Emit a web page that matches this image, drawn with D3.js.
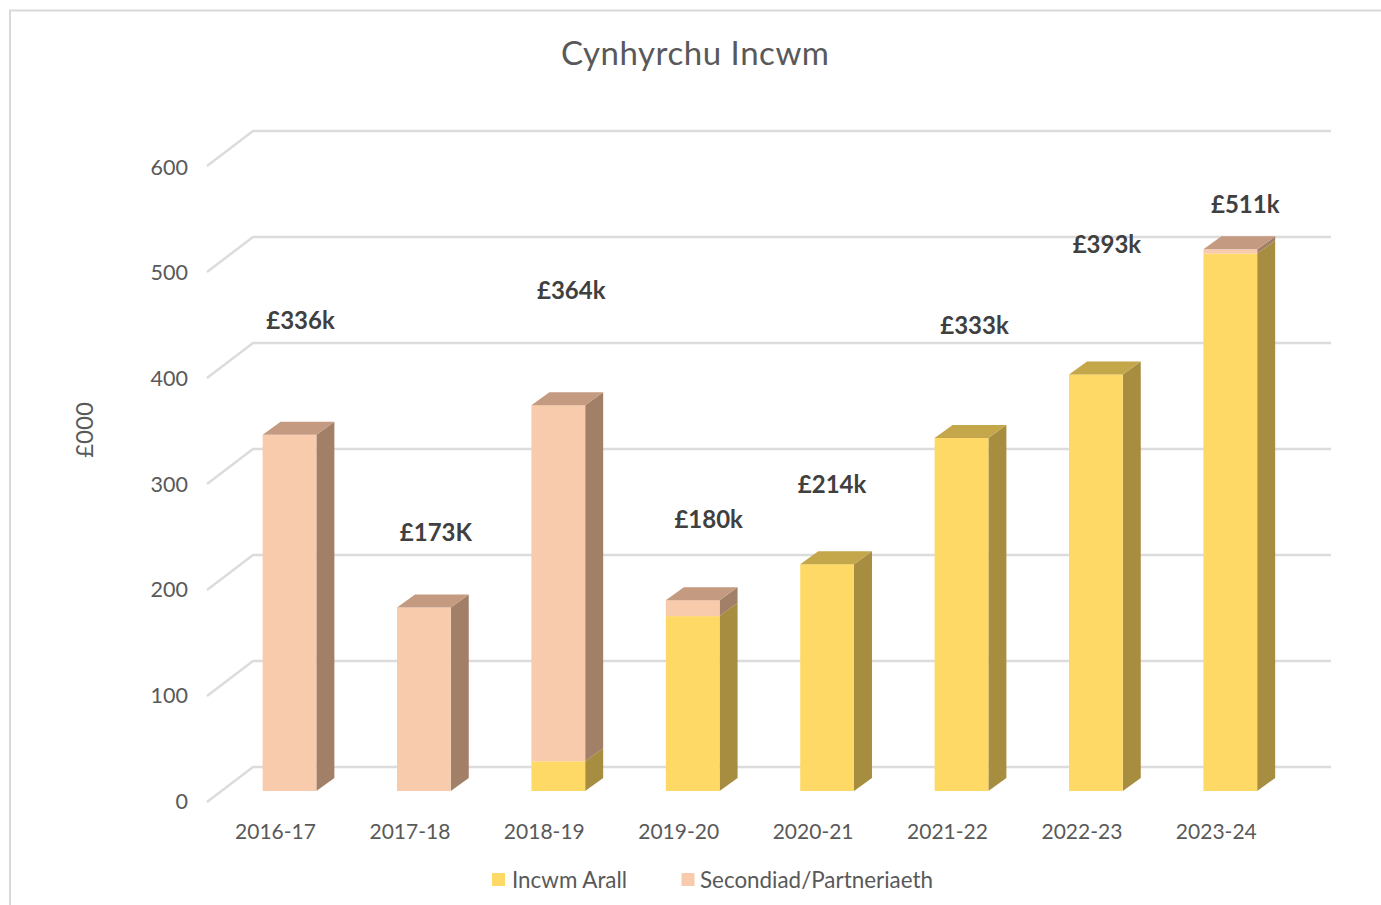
<!DOCTYPE html>
<html lang="cy">
<head>
<meta charset="utf-8">
<title>Cynhyrchu Incwm</title>
<script src="https://cdn.jsdelivr.net/npm/d3@7"></script>
<style>
  html, body { margin: 0; background: #fff; }
  svg { display: block; font-family: Lato, "Open Sans", sans-serif; }
</style>
</head>
<body>
<script>
// data
const years = ["2016-17", "2017-18", "2018-19", "2019-20", "2020-21", "2021-22", "2022-23", "2023-24"];
const incwmArall = [0, 0, 28, 165, 214, 333, 393, 507];
const secondiad = [336, 173, 336, 15, 0, 0, 0, 4];
const totalLabels = ["£336k", "£173K", "£364k", "£180k", "£214k", "£333k", "£393k", "£511k"];
const seriesNames = ["Incwm Arall", "Secondiad/Partneriaeth"];
const yTicks = [0, 100, 200, 300, 400, 500, 600];

// layout
const w = 1381, h = 905;
const depthX = 18, depthY = 13;       // bar depth
const wallX = 46;                     // floor depth from axis to back wall
const labelDx = [11, 12, 13, 16, 5, 13, 11, 15];  // labels were dragged around by hand
const labelY = [321, 533, 291, 520, 485, 326, 245, 205];

const colors = {
  "Incwm Arall": { front: "#ffd966", side: "#a68d3f", top: "#c4a64b" },
  "Secondiad/Partneriaeth": { front: "#f7cbac", side: "#a28068", top: "#c49a80" }
};

const x = d3.scaleBand().domain(years).range([222.3, 1297.5]).paddingInner(0.6).paddingOuter(0.3);
const y = d3.scaleLinear().domain([0, 600]).range([791, 155]);
// the axis labels sit on the front edge of the floor, the gridlines on the back wall
const yFront = y.copy().range([802, 166]);
const yBack = y.copy().range([767, 131]);
const yLabels = y.copy().range([801, 167]);

const svg = d3.select("body").append("svg").attr("width", w).attr("height", h);

// chart border, cropped on the right and bottom
svg.append("path")
  .attr("d", `M10,${h + 5}V10.5H${w + 5}`)
  .attr("fill", "none").attr("stroke", "#d9d9d9").attr("stroke-width", 2);

svg.append("text")
  .attr("x", 695).attr("y", 65)
  .attr("text-anchor", "middle")
  .attr("font-size", 33).attr("fill", "#595959")
  .attr("textLength", 268)
  .text("Cynhyrchu Incwm");

// gridlines
svg.append("g").selectAll("path")
  .data(yTicks)
  .join("path")
  .attr("d", d => `M207,${yFront(d)}L${207 + wallX},${yBack(d)}H1331`)
  .attr("fill", "none").attr("stroke", "#dcdcdc").attr("stroke-width", 2.5);

// axes
const yAxis = svg.append("g")
  .attr("transform", "translate(188,0)")
  .call(d3.axisLeft(yLabels).tickValues(yTicks).tickSize(0).tickPadding(0));
const xAxis = svg.append("g")
  .attr("transform", "translate(-14,822)")
  .call(d3.axisBottom(x).tickSize(0).tickPadding(0));
[yAxis, xAxis].forEach(a => {
  a.select(".domain").remove();
  a.selectAll("text").attr("font-size", 21.5).attr("fill", "#595959").attr("font-family", "Lato");
});
xAxis.selectAll("text").attr("y", 0).attr("dy", "0.8em").attr("font-size", 21);
yAxis.selectAll("text").attr("dy", "0.33em");

svg.append("text")
  .attr("transform", "translate(93,430) rotate(-90)")
  .attr("text-anchor", "middle")
  .attr("font-size", 24).attr("fill", "#595959")
  .text("£000");

// stacked bars
const rows = years.map((yr, i) => ({ year: yr, "Incwm Arall": incwmArall[i], "Secondiad/Partneriaeth": secondiad[i] }));
const stacked = d3.stack().keys(seriesNames)(rows);

const seriesG = svg.append("g").selectAll("g")
  .data(stacked)
  .join("g");

const segs = seriesG.selectAll("g")
  .data(s => s.filter(d => d[1] > d[0]).map(d => ({ key: s.key, y0: d[0], y1: d[1], year: d.data.year })))
  .join("g");

segs.append("path")
  .attr("fill", d => colors[d.key].side)
  .attr("d", d => {
    const r = x(d.year) + x.bandwidth();
    return `M${r},${y(d.y0)}L${r + depthX},${y(d.y0) - depthY}V${y(d.y1) - depthY}L${r},${y(d.y1)}Z`;
  });

segs.append("rect")
  .attr("fill", d => colors[d.key].front)
  .attr("x", d => x(d.year))
  .attr("y", d => y(d.y1))
  .attr("width", x.bandwidth())
  .attr("height", d => y(d.y0) - y(d.y1));

// only the highest segment of each bar shows its lid
segs.filter(d => d.y1 === d3.max(stacked, s => s.find(p => p.data.year === d.year)[1]))
  .append("path")
  .attr("fill", d => colors[d.key].top)
  .attr("d", d => {
    const l = x(d.year), r = l + x.bandwidth(), t = y(d.y1);
    return `M${l},${t}L${l + depthX},${t - depthY}H${r + depthX}L${r},${t}Z`;
  });

// total labels
svg.append("g").selectAll("text")
  .data(totalLabels)
  .join("text")
  .attr("x", (d, i) => x(years[i]) + x.bandwidth() / 2 + labelDx[i])
  .attr("y", (d, i) => labelY[i])
  .attr("dy", "0.35em")
  .attr("text-anchor", "middle")
  .attr("font-size", 24).attr("font-weight", 700).attr("fill", "#404040")
  .text(d => d);

// legend
const legendX = d3.scaleOrdinal().domain(seriesNames).range([492, 681.5]);
const legend = svg.append("g").selectAll("g")
  .data(seriesNames)
  .join("g")
  .attr("transform", d => `translate(${legendX(d)},873)`);
legend.append("rect")
  .attr("width", 13).attr("height", 13)
  .attr("fill", d => colors[d].front);
legend.append("text")
  .attr("x", (d, i) => i ? 18.5 : 20).attr("y", 7).attr("dy", "0.35em")
  .attr("font-size", 22.4).attr("fill", "#595959")
  .text(d => d);
</script>
</body>
</html>
